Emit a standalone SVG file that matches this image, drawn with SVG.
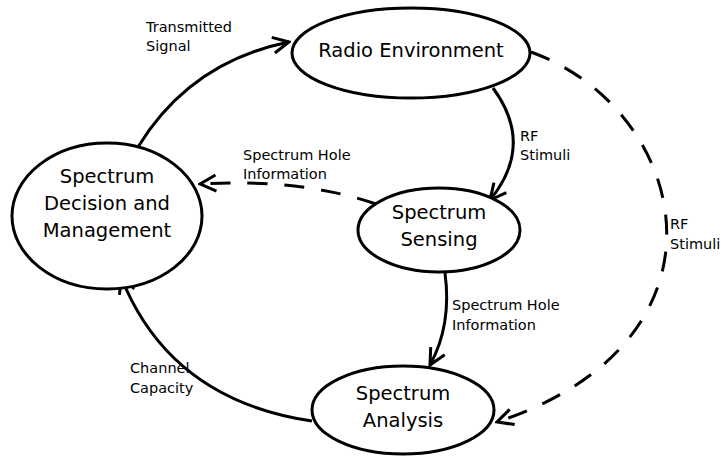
<svg xmlns="http://www.w3.org/2000/svg" width="722" height="458" viewBox="0 0 722 458">
<defs>
<style>
.node{fill:#fff;stroke:#000;stroke-width:3}
.nt{font-family:"DejaVu Sans",sans-serif;font-size:19.5px;fill:#000;text-anchor:middle}
.lb{font-family:"DejaVu Sans",sans-serif;font-size:14.5px;fill:#000}
.c{fill:none;stroke:#000;stroke-width:3}
.d{stroke-dasharray:20,17}
</style>
<marker id="ah" viewBox="0 0 20 20" refX="18" refY="10" markerWidth="20" markerHeight="20" markerUnits="userSpaceOnUse" orient="auto">
<path d="M2,2 L18,10 L2,18" fill="none" stroke="#000" stroke-width="3"/>
</marker>
</defs>
<g id="connectors">
<path class="c" d="M138,147 Q190,62 289,42" marker-end="url(#ah)"/>
<path class="c" d="M493,88 Q535,145 490,200" marker-end="url(#ah)"/>
<path class="c d" d="M376,204 Q300,178 200,184" marker-end="url(#ah)"/>
<path class="c" d="M445,273 Q452,325 430,365" marker-end="url(#ah)"/>
<path class="c" d="M312,421 Q170,400 121,277" marker-end="url(#ah)"/>
<path class="c d" d="M531,52 C690,110 745,340 497,422" marker-end="url(#ah)"/>
</g>
<g id="radio-environment">
<ellipse class="node" cx="411" cy="53" rx="119" ry="45"/>
<text class="nt" x="411" y="57">Radio Environment</text>
</g>
<g id="spectrum-decision">
<ellipse class="node" cx="107" cy="216" rx="95" ry="73"/>
<text class="nt" x="107" y="183">Spectrum</text>
<text class="nt" x="107" y="210">Decision and</text>
<text class="nt" x="107" y="237">Management</text>
</g>
<g id="spectrum-sensing">
<ellipse class="node" cx="439" cy="230" rx="81" ry="42"/>
<text class="nt" x="439" y="219">Spectrum</text>
<text class="nt" x="439" y="246">Sensing</text>
</g>
<g id="spectrum-analysis">
<ellipse class="node" cx="403" cy="410" rx="91" ry="44"/>
<text class="nt" x="403" y="400">Spectrum</text>
<text class="nt" x="403" y="427">Analysis</text>
</g>
<g id="labels">
<text class="lb" x="146" y="32">Transmitted</text>
<text class="lb" x="146" y="51">Signal</text>
<text class="lb" x="243" y="160">Spectrum Hole</text>
<text class="lb" x="243" y="179">Information</text>
<text class="lb" x="520" y="141">RF</text>
<text class="lb" x="520" y="160">Stimuli</text>
<text class="lb" x="452" y="310">Spectrum Hole</text>
<text class="lb" x="452" y="330">Information</text>
<text class="lb" x="130" y="373">Channel</text>
<text class="lb" x="130" y="393">Capacity</text>
<text class="lb" x="670" y="229">RF</text>
<text class="lb" x="670" y="249">Stimuli</text>
</g>
</svg>
